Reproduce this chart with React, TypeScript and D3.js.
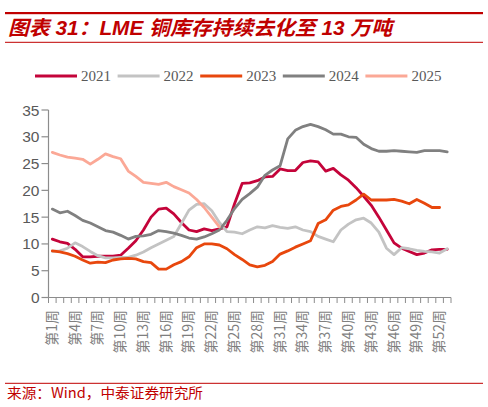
import React from "react";
import * as d3 from "d3";

const weeks: number[] = d3.range(1, 54);
const yTicks = [0, 5, 10, 15, 20, 25, 30, 35];
const labelWeeks = [1, 4, 7, 10, 13, 16, 19, 22, 25, 28, 31, 34, 37, 40, 43, 46, 49, 52];
const seriesNames = ["2021", "2022", "2023", "2024", "2025"];
const seriesColors = ["#C4043A", "#C3C3C3", "#E8470D", "#808080", "#FBA896"];

const v2021 = [10.9, 10.4, 10.1, 9.0, 7.6, 7.6, 7.7, 7.7, 7.7, 7.9, 9.2, 10.6, 12.6, 15.0, 16.5, 16.7, 15.6, 14.0, 12.6, 12.3, 12.8, 12.5, 12.8, 13.2, 17.5, 21.3, 21.4, 21.8, 22.5, 22.6, 24.0, 23.7, 23.7, 25.2, 25.5, 25.3, 23.6, 24.1, 22.9, 21.9, 20.5, 18.9, 17.2, 15.0, 12.6, 10.2, 9.2, 8.6, 8.0, 8.3, 8.9, 9.0, 9.0];
const v2022 = [8.6, 8.7, 9.2, 10.2, 9.5, 8.6, 7.8, 7.4, 7.4, 7.5, 7.5, 7.9, 8.5, 9.3, 10.0, 10.7, 11.4, 13.8, 16.3, 17.4, 17.5, 16.2, 14.0, 12.3, 12.2, 11.9, 12.6, 13.2, 13.0, 13.4, 13.1, 12.9, 13.2, 12.6, 12.3, 11.4, 10.9, 10.4, 12.6, 13.7, 14.5, 14.8, 13.9, 12.2, 9.2, 8.0, 9.3, 9.1, 8.8, 8.6, 8.5, 8.3, 9.1];
const v2023 = [8.7, 8.5, 8.2, 7.7, 7.0, 6.4, 6.6, 6.5, 7.0, 7.2, 7.3, 7.2, 6.7, 6.5, 5.3, 5.3, 6.1, 6.7, 7.6, 9.3, 10.0, 10.0, 9.8, 9.1, 8.0, 7.1, 6.1, 5.7, 6.0, 6.7, 8.1, 8.7, 9.4, 10.0, 10.6, 13.8, 14.5, 16.3, 17.0, 17.3, 18.2, 19.3, 18.2, 18.2, 18.2, 18.3, 18.0, 17.5, 18.3, 17.6, 16.8, 16.8];
const v2024 = [16.5, 15.8, 16.1, 15.3, 14.4, 13.9, 13.2, 12.5, 12.2, 11.6, 10.9, 11.4, 11.5, 11.8, 12.5, 12.3, 12.0, 11.6, 11.1, 10.9, 11.3, 11.9, 12.6, 14.4, 16.6, 18.3, 19.4, 20.6, 22.8, 23.8, 24.6, 29.6, 31.2, 31.9, 32.3, 31.9, 31.3, 30.5, 30.5, 30.0, 29.9, 28.6, 27.8, 27.3, 27.3, 27.4, 27.3, 27.2, 27.1, 27.4, 27.4, 27.4, 27.2];
const v2025 = [27.1, 26.6, 26.2, 26.0, 25.8, 24.9, 25.8, 26.8, 26.3, 25.9, 23.6, 22.6, 21.5, 21.3, 21.1, 21.5, 20.7, 20.1, 19.5, 18.3, 16.8, 15.0, 13.2];

const allSeries = [v2021, v2022, v2023, v2024, v2025];

export default function App() {
  const W = 488, H = 407;
  const left = 48.5, right = 451, top = 110, bottom = 297.5;
  const x = d3.scaleBand<number>().domain(weeks).range([left, right]).paddingInner(0).paddingOuter(0);
  const y = d3.scaleLinear().domain([0, 35]).range([bottom, top]);
  const cx = (w: number) => (x(w) as number) + x.bandwidth() / 2;
  const line = d3.line<number>().x((_, i) => cx(i + 1)).y((d) => y(d));
  const tickXs = weeks.map((w) => x(w) as number).concat([right]);

  const legendY = 76;
  const legendStart = 35;
  const legendStep = 82.6;

  return (
    <svg width={W} height={H} style={{ position: "absolute", left: 0, top: 0, background: "#fff" }}>
      {/* header */}
      <rect x={5} y={12} width={478} height={2.2} fill="#C00000" />
      <text x={8} y={35} fill="#C00000" fontSize={20} fontWeight="bold" fontStyle="italic"
        fontFamily="'Liberation Sans', 'Noto Sans CJK SC', sans-serif" textLength={384} lengthAdjust="spacingAndGlyphs">
        图表 31：LME 铜库存持续去化至 13 万吨
      </text>
      <rect x={5} y={41.8} width={478} height={1} fill="#C00000" />

      {/* legend */}
      {seriesNames.map((n, i) => (
        <g key={n}>
          <line x1={legendStart + i * legendStep} x2={legendStart + i * legendStep + 42} y1={legendY} y2={legendY}
            stroke={seriesColors[i]} strokeWidth={3} />
          <text x={legendStart + i * legendStep + 46} y={legendY + 5} fontSize={15}
            fontFamily="'Liberation Serif', 'DejaVu Serif', serif" fill="#595959">{n}</text>
        </g>
      ))}

      {/* y axis */}
      <line x1={left} x2={left} y1={top} y2={bottom} stroke="#8C8C8C" strokeWidth={1.2} />
      {yTicks.map((t) => (
        <g key={t}>
          <line x1={left - 7} x2={left} y1={y(t)} y2={y(t)} stroke="#8C8C8C" strokeWidth={1.2} />
          <text x={39.5} y={y(t) + 5.5} textAnchor="end" fontSize={15.5}
            fontFamily="'Liberation Sans', Arial, sans-serif" fill="#595959">{t}</text>
        </g>
      ))}

      {/* x axis */}
      <line x1={left} x2={right} y1={bottom} y2={bottom} stroke="#8C8C8C" strokeWidth={1.2} />
      {tickXs.map((tx, i) => (
        <line key={i} x1={tx} x2={tx} y1={bottom} y2={bottom + 5.5} stroke="#8C8C8C" strokeWidth={1} />
      ))}
      {labelWeeks.map((w) => (
        <text key={w} transform={`translate(${cx(w) + 4.5},${310}) rotate(-90)`} textAnchor="end"
          fontSize={14} fontFamily="'Noto Sans CJK SC', sans-serif" fill="#7F7F7F">{`第${w}周`}</text>
      ))}

      {/* series */}
      {allSeries.map((s, i) => (
        <path key={i} d={line(s) || ""} fill="none" stroke={seriesColors[i]} strokeWidth={2.8}
          strokeLinejoin="round" strokeLinecap="round" />
      ))}

      {/* footer */}
      <rect x={5} y={382.8} width={478} height={1} fill="#C00000" />
      <text x={7} y={398} fill="#C00000" fontSize={14} fontFamily="'Noto Sans CJK SC', sans-serif"
        textLength={196} lengthAdjust="spacingAndGlyphs">来源：Wind，中泰证券研究所</text>
    </svg>
  );
}
